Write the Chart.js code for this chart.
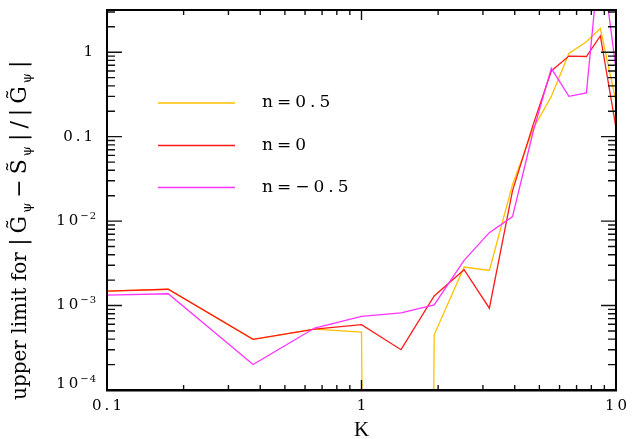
<!DOCTYPE html>
<html>
<head>
<meta charset="utf-8">
<script src="https://cdn.jsdelivr.net/npm/chart.js@4/dist/chart.umd.min.js"></script>
<style>
  html, body { margin: 0; padding: 0; background: #fff; }
  #wrap { width: 632px; height: 439px; position: relative; }
</style>
</head>
<body>
<div id="wrap"><canvas id="c"></canvas></div>
<script>
// Wavenumbers K at which the bound was evaluated
const kValues = [0.1, 0.174, 0.375, 0.655, 1.0, 1.43, 1.93, 2.53, 3.18, 3.92, 4.73, 5.57, 6.53, 7.65, 8.68, 10];

// Upper limit for |G~ - S~| / |G~| for each spectral index n
// (the n = 0.5 value at K = 1.43 vanishes, far below the plotted range)
const limitN05 = [1.48e-3, 1.56e-3, 3.98e-4, 5.25e-4, 4.86e-4, 1e-60, 4.5e-4, 2.86e-3, 2.6e-3, 0.027, 0.125, 0.30, 0.965, 1.33, 1.91, 0.26];
const limitN0 = [1.48e-3, 1.56e-3, 3.98e-4, 5.25e-4, 5.94e-4, 3.0e-4, 1.3e-3, 2.66e-3, 9.3e-4, 0.0228, 0.14, 0.60, 0.90, 0.89, 1.56, 0.127];
const limitNm05 = [1.33e-3, 1.38e-3, 2.0e-4, 5.42e-4, 7.46e-4, 8.2e-4, 1.02e-3, 3.43e-3, 7.3e-3, 0.0113, 0.116, 0.645, 0.30, 0.33, 17, 0.63];

const seriesLabels = ['n=0.5', 'n=0', 'n=\u22120.5'];

// Axis tick labels
const xTickValues = [0.1, 1, 10];
const xTickText = ['0.1', '1', '10'];
const yTickValues = [1e-4, 1e-3, 1e-2, 0.1, 1];
const yTickBase = ['10', '10', '10', '0.1', '1'];
const yTickExp = ['\u22124', '\u22123', '\u22122', '', ''];

const LABEL_FONT = '"DejaVu Serif", serif';

function charsWidth(ctx, s, sp) {
  let w = 0;
  const chars = Array.from(s);
  chars.forEach(ch => { w += ctx.measureText(ch).width; });
  return w + sp * Math.max(0, chars.length - 1);
}
function drawSpaced(ctx, s, x, y, sp) {
  for (const ch of Array.from(s)) {
    ctx.fillText(ch, x, y);
    x += ctx.measureText(ch).width + sp;
  }
  return x;
}

// Frame with inward ticks on all four sides, plus tick labels
const framePlugin = {
  id: 'frameTicks',
  afterDatasetsDraw(chart) {
    const { ctx, chartArea: a, scales: { x, y } } = chart;
    ctx.save();
    ctx.strokeStyle = '#111';
    ctx.lineWidth = 1.4;
    ctx.beginPath();
    for (let d = -1; d <= 0; d++) {
      for (let m = 1; m <= 9; m++) {
        const v = m * Math.pow(10, d);
        if (v < x.min || v > x.max) continue;
        const px = x.getPixelForValue(v);
        const len = m === 1 ? 10 : 5;
        ctx.moveTo(px, a.bottom); ctx.lineTo(px, a.bottom - len);
        ctx.moveTo(px, a.top); ctx.lineTo(px, a.top + len);
      }
    }
    for (let d = -4; d <= 0; d++) {
      for (let m = 1; m <= 9; m++) {
        const v = m * Math.pow(10, d);
        if (v < y.min || v > y.max) continue;
        const py = y.getPixelForValue(v);
        const len = m === 1 ? 15 : 8;
        ctx.moveTo(a.left, py); ctx.lineTo(a.left + len, py);
        ctx.moveTo(a.right, py); ctx.lineTo(a.right - len, py);
      }
    }
    ctx.stroke();

    ctx.strokeStyle = '#000';
    ctx.lineWidth = 2;
    ctx.strokeRect(a.left, a.top, a.right - a.left, a.bottom - a.top);
    ctx.lineWidth = 2.6;
    ctx.beginPath();
    ctx.moveTo(a.left - 1, a.bottom + 0.3);
    ctx.lineTo(a.right + 1, a.bottom + 0.3);
    ctx.stroke();

    // tick labels
    ctx.fillStyle = '#000';
    ctx.textBaseline = 'middle';
    ctx.textAlign = 'left';
    const sp = 3;
    xTickValues.forEach((v, i) => {
      ctx.font = '15px ' + LABEL_FONT;
      const w = charsWidth(ctx, xTickText[i], sp);
      const px = x.getPixelForValue(v);
      drawSpaced(ctx, xTickText[i], px - w / 2, a.bottom + 16, sp);
    });
    yTickValues.forEach((v, i) => {
      let py = y.getPixelForValue(v);
      if (i === 0) py -= 6;
      ctx.font = '15px ' + LABEL_FONT;
      const wb = charsWidth(ctx, yTickBase[i], sp);
      ctx.font = '10px ' + LABEL_FONT;
      const we = yTickExp[i] ? charsWidth(ctx, yTickExp[i], 1) + 2 : 0;
      const right = a.left - (yTickExp[i] ? 11 : 14);
      let cx = right - wb - we;
      ctx.font = '15px ' + LABEL_FONT;
      cx = drawSpaced(ctx, yTickBase[i], cx, py, sp);
      if (yTickExp[i]) {
        ctx.font = '10px ' + LABEL_FONT;
        drawSpaced(ctx, yTickExp[i], cx - sp + 2, py - 5, 1);
      }
    });

    // x axis title
    ctx.font = '21px "Liberation Serif", serif';
    ctx.textAlign = 'center';
    ctx.textBaseline = 'alphabetic';
    ctx.fillText('K', (a.left + a.right) / 2, 436);

    // y axis title, rotated, with subscripts
    ctx.save();
    ctx.translate(26, 400);
    ctx.rotate(-Math.PI / 2);
    ctx.textAlign = 'left';
    const parts = [
      { t: 'upper limit for ', f: 20, dy: 0, gap: 0 },
      { t: '|', f: 22, dy: 0, gap: 5 },
      { t: 'G\u0303', f: 22, dy: 0, gap: 3 },
      { t: '\u03c8', f: 13, dy: 5, gap: 5 },
      { t: '\u2212', f: 22, dy: 0, gap: 5 },
      { t: 'S\u0303', f: 22, dy: 0, gap: 3 },
      { t: '\u03c8', f: 13, dy: 5, gap: 5 },
      { t: '|', f: 22, dy: 0, gap: 5 },
      { t: '/', f: 22, dy: 0, gap: 5 },
      { t: '|', f: 22, dy: 0, gap: 5 },
      { t: 'G\u0303', f: 22, dy: 0, gap: 3 },
      { t: '\u03c8', f: 13, dy: 5, gap: 5 },
      { t: '|', f: 22, dy: 0, gap: 0 }
    ];
    let u = 0;
    parts.forEach(p => {
      ctx.font = p.f + 'px ' + LABEL_FONT;
      ctx.fillText(p.t, u, p.dy);
      u += ctx.measureText(p.t).width + p.gap;
    });
    ctx.restore();

    // legend inside the plot area
    const rows = [93, 135.5, 177.5];
    chart.data.datasets.forEach((ds, i) => {
      const ly = a.top + rows[i];
      ctx.strokeStyle = ds.borderColor;
      ctx.lineWidth = 1.3;
      ctx.beginPath();
      ctx.moveTo(a.left + 51, ly);
      ctx.lineTo(a.left + 128, ly);
      ctx.stroke();
      ctx.fillStyle = '#000';
      ctx.font = '17px ' + LABEL_FONT;
      ctx.textAlign = 'left';
      ctx.textBaseline = 'middle';
      drawSpaced(ctx, ds.label, a.left + 155, ly, 4);
    });
    ctx.restore();
  }
};

const makePoints = vals => vals.map((v, i) => ({ x: kValues[i], y: v }));

new Chart(document.getElementById('c'), {
  type: 'line',
  data: {
    datasets: [
      { label: seriesLabels[0], data: makePoints(limitN05), borderColor: '#ffc000', order: 3 },
      { label: seriesLabels[1], data: makePoints(limitN0), borderColor: '#ff1a1a', order: 2 },
      { label: seriesLabels[2], data: makePoints(limitNm05), borderColor: '#ff33ff', order: 1 }
    ].map(d => Object.assign(d, { borderWidth: 1.3, pointRadius: 0, tension: 0, fill: false }))
  },
  options: {
    responsive: true,
    maintainAspectRatio: false,
    animation: false,
    devicePixelRatio: 1,
    layout: { padding: { top: 10, right: 16, left: 0, bottom: 0 } },
    plugins: { legend: { display: false }, tooltip: { enabled: false } },
    scales: {
      x: {
        type: 'logarithmic', min: 0.1, max: 10,
        ticks: { display: false },
        grid: { display: false, drawTicks: false },
        border: { display: false },
        afterFit(s) { s.height = 49; }
      },
      y: {
        type: 'logarithmic', min: 1e-4, max: Math.pow(10, 0.5),
        ticks: { display: false },
        grid: { display: false, drawTicks: false },
        border: { display: false },
        afterFit(s) { s.width = 107; }
      }
    }
  },
  plugins: [framePlugin]
});
</script>
</body>
</html>
